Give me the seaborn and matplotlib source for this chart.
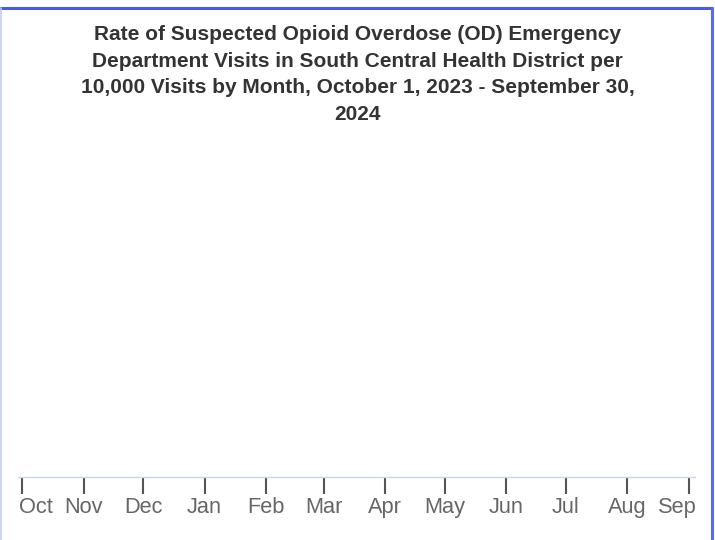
import matplotlib
matplotlib.use("Agg")
import matplotlib.pyplot as plt
import matplotlib.transforms as mtransforms
from matplotlib.lines import Line2D
import pandas as pd
import seaborn as sns

# chart text and month ticks (the chart has no data points shown)
title = ("Rate of Suspected Opioid Overdose (OD) Emergency\n"
         "Department Visits in South Central Health District per\n"
         "10,000 Visits by Month, October 1, 2023 - September 30,\n"
         "2024")
month_starts = pd.date_range("2023-10-01", "2024-09-01", freq="MS")
month_labels = ["Oct", "Nov", "Dec", "Jan", "Feb", "Mar",
                "Apr", "May", "Jun", "Jul", "Aug", "Sep"]
rate = [None] * len(month_starts)  # no values published for this district

sns.set_style("white")
plt.rcParams["font.family"] = ["Liberation Sans", "DejaVu Sans"]

fig = plt.figure(figsize=(7.15, 5.40), dpi=100)
ax = fig.add_axes([18 / 715, 63 / 540, 677 / 715, 340 / 540])

df = pd.DataFrame({"month": month_starts, "rate": pd.Series(rate, dtype=float)})
sns.lineplot(data=df, x="month", y="rate", ax=ax)

ax.set_xlim(pd.Timestamp("2023-09-29"), pd.Timestamp("2024-09-04"))
ax.set_ylim(0, 1)
ax.set_xticks(month_starts)
ax.set_xticklabels(month_labels)
ax.set_yticks([])
ax.set_xlabel("")
ax.set_ylabel("")
for side in ["top", "right", "left"]:
    ax.spines[side].set_visible(False)
ax.spines["bottom"].set_color("#ccd6eb")
ax.spines["bottom"].set_linewidth(1.0)
ax.tick_params(axis="x", bottom=True, direction="out", length=12.5, width=1.5,
               color="#555555", labelsize=15.7, labelcolor="#666666", pad=2)

# edge labels are pushed inside the plot area
ticks = ax.get_xaxis().get_major_ticks()
first, last = ticks[0].label1, ticks[-1].label1
first.set_horizontalalignment("left")
first.set_transform(first.get_transform() +
                    mtransforms.ScaledTranslation(-3 / 100, 0, fig.dpi_scale_trans))
last.set_horizontalalignment("right")
last.set_transform(last.get_transform() +
                   mtransforms.ScaledTranslation(8 / 100, 0, fig.dpi_scale_trans))

fig.text(0.5, 1 - 25.5 / 540, title, ha="center", va="top",
         fontsize=15, fontweight="bold", color="#333333", linespacing=1.49)

# outer frame around the chart
fig.add_artist(Line2D([0, 712 / 715], [1 - 8 / 540, 1 - 8 / 540],
                      transform=fig.transFigure, color="#4a5be8", lw=2.2))
fig.add_artist(Line2D([712 / 715, 712 / 715], [0, 1 - 8 / 540],
                      transform=fig.transFigure, color="#5b6cf0", lw=2.2))
fig.add_artist(Line2D([1 / 715, 1 / 715], [0, 1 - 8 / 540],
                      transform=fig.transFigure, color="#c5cbfa", lw=1.2))

fig.savefig("out.png", dpi=100)
